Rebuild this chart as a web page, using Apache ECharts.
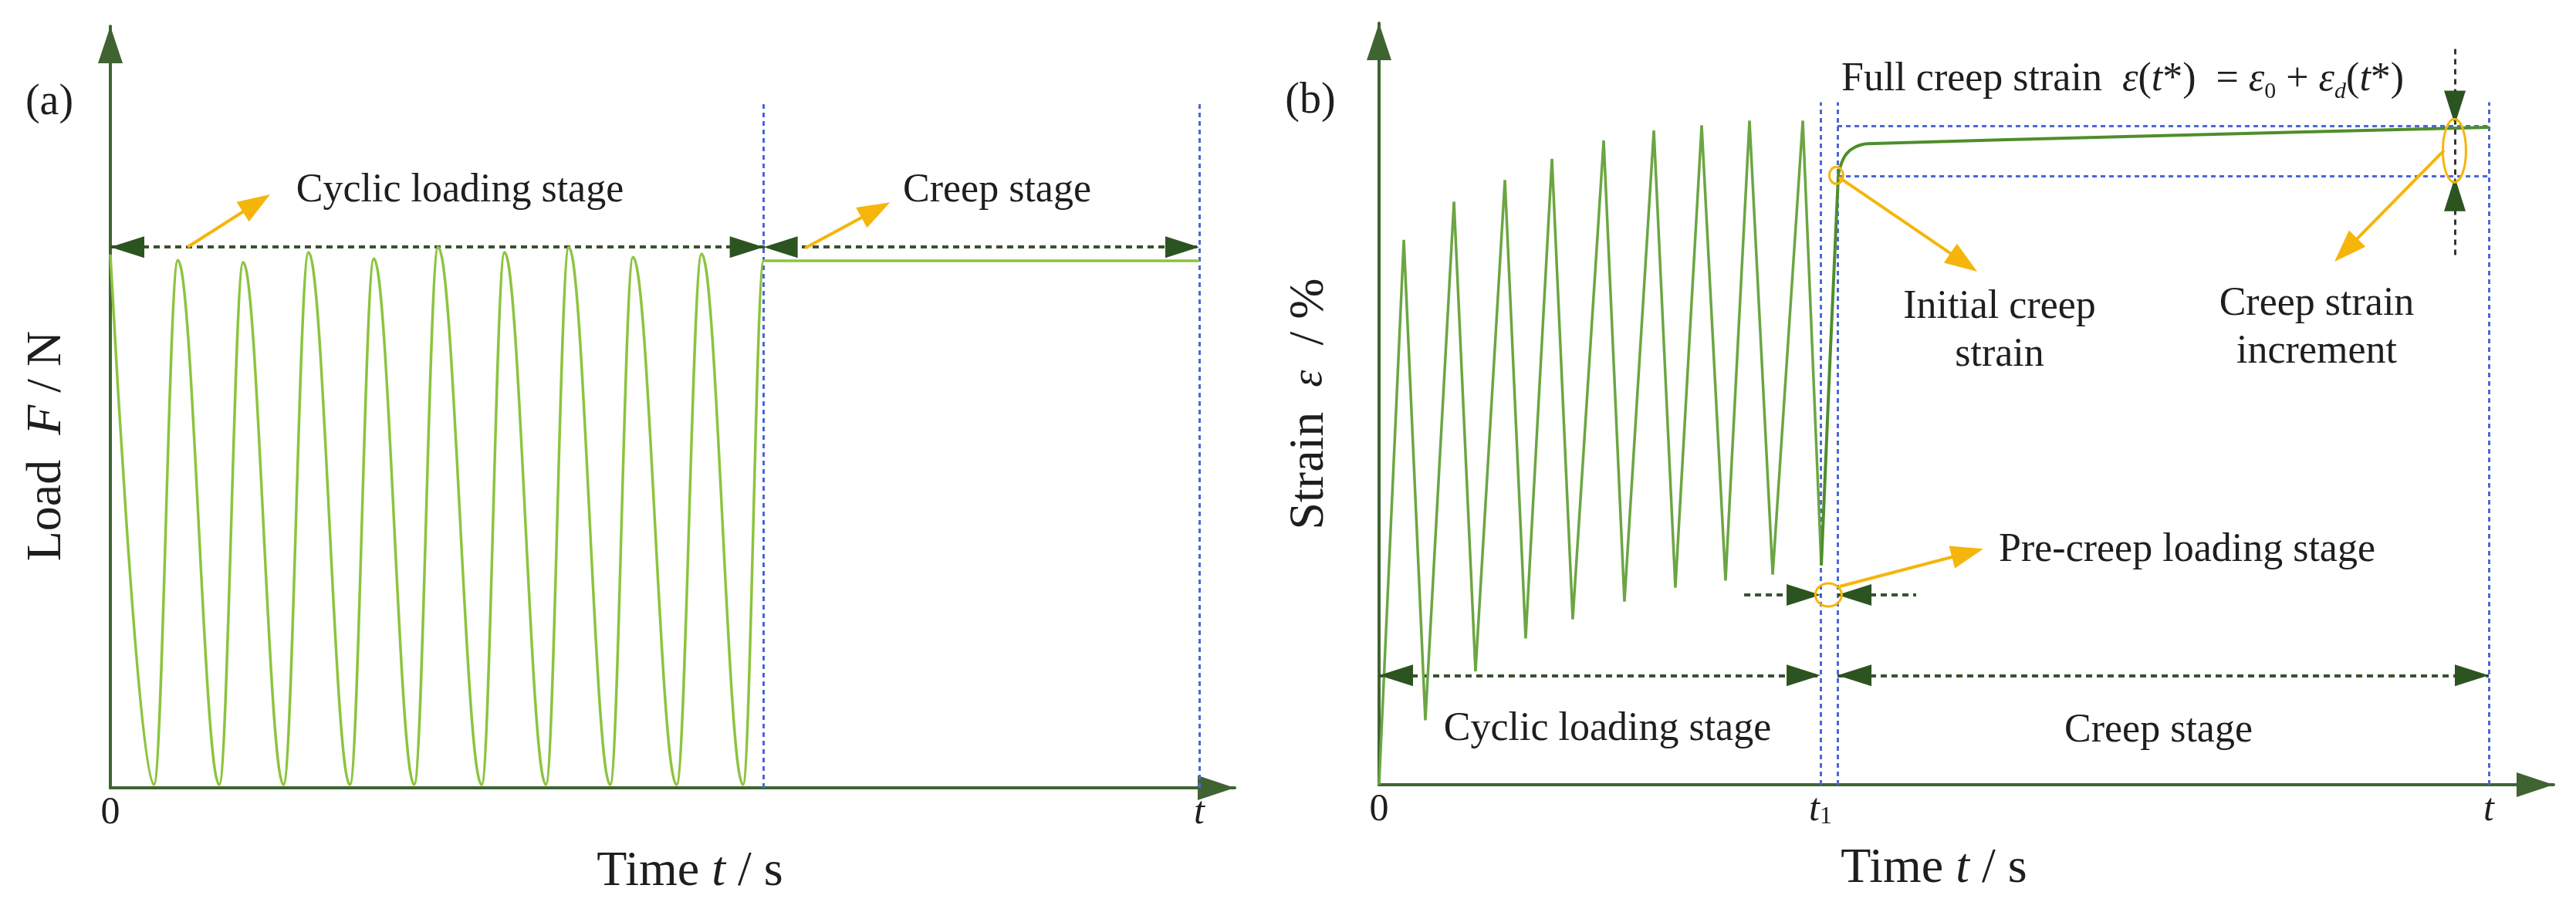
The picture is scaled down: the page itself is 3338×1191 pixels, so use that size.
<!DOCTYPE html>
<html><head><meta charset="utf-8">
<script src="https://cdn.jsdelivr.net/npm/echarts@6/dist/echarts.min.js"></script>
<style>html,body{margin:0;padding:0;background:#fff}#c{width:3338px;height:1191px}</style>
</head><body><div id="c"></div><script>
// ---------- Data (time in units where t = 100) ----------
// Panel (a): load F (creep load level = 100)
const loadPeakTime    = [0, 6.2, 12.2, 18.2, 24.2, 30.1, 36.2, 42.1, 48.0, 54.3];
const loadPeakValue   = [101.2, 100.1, 99.7, 101.6, 100.4, 102.6, 101.6, 102.6, 100.7, 101.3];
const loadTroughTime  = [4.0, 10.0, 15.9, 22.0, 27.9, 34.1, 40.0, 45.9, 52.0, 58.1];
const loadTroughValue = [0.6, 0.6, 0.6, 0.6, 0.6, 0.6, 0.6, 0.6, 0.6, 0.6];
const creepLoadTime   = [60, 100];
const creepLoadValue  = [100, 100];

// Panel (b): strain
const strainTroughTime  = [0, 4.17, 8.69, 13.21, 17.45, 22.11, 26.70, 31.22, 35.47, 39.85];
const strainTroughValue = [0, 9.8, 17.2, 22.2, 25.1, 27.8, 29.9, 31.0, 31.9, 33.3];
const strainPeakTime    = [2.23, 6.75, 11.34, 15.58, 20.24, 24.76, 29.07, 33.38, 38.18];
const strainPeakValue   = [82.7, 88.5, 91.8, 95.0, 97.8, 99.3, 100.1, 100.8, 100.8];
const creepStrainTime   = [39.85, 41.38, 41.66, 42.14, 42.91, 44.02, 67.94, 100];
const creepStrainValue  = [33.3, 92.4, 94.3, 95.8, 96.8, 97.3, 98.4, 99.8];

// Key times / levels
const tSwitchA = 60, tEnd = 100, t1 = 39.78, t1b = 41.31;
const initialCreepLevel = 92.4, fullCreepLevel = 100.0;
const xTicksA = [0, 100], xTicksB = [0, t1, 100];
const tickLabelA = ['0', 't'], tickLabelB = ['0', 't1', 't'];

// ---------- Styles ----------
const FONT = 'Liberation Serif';
const AXIS = '#3f6432', HEAD = '#2c5420', DIM = '#3a5230';
const GREEN_A = '#8cc43f', GREEN_B = '#6ba642', GREEN_C = '#4e8e2c';
const BLUE = '#4a68d8', YEL = '#f5b50a', TXT = '#1e1e1e';

function zipPts(tA, vA) { return tA.map((t, i) => [t, vA[i]]); }
function interleave(a, b) { const out = []; const n = Math.max(a.length, b.length); for (let i = 0; i < n; i++) { if (i < a.length) out.push(a[i]); if (i < b.length) out.push(b[i]); } return out; }

const loadData = interleave(zipPts(loadPeakTime, loadPeakValue), zipPts(loadTroughTime, loadTroughValue)).concat(zipPts(creepLoadTime, creepLoadValue));
const strainData = interleave(zipPts(strainTroughTime, strainTroughValue), zipPts(strainPeakTime, strainPeakValue));
const creepData = zipPts(creepStrainTime, creepStrainValue);

const richTick = {
  n: {fontFamily: FONT, fontSize: 50, color: TXT},
  i: {fontFamily: FONT, fontSize: 50, color: TXT, fontStyle: 'italic'},
  s: {fontFamily: FONT, fontSize: 32, color: TXT, verticalAlign: 'bottom', lineHeight: 30}
};
const richName = {
  n: {fontFamily: FONT, fontSize: 64, color: TXT, lineHeight: 66},
  i: {fontFamily: FONT, fontSize: 64, color: TXT, fontStyle: 'italic', lineHeight: 66},
  e: {fontFamily: FONT, fontSize: 56, color: TXT, fontStyle: 'italic', lineHeight: 66}
};
function tickFmt(labels, ticks) {
  return v => {
    let k = 0, best = 1e9;
    ticks.forEach((t, i) => { if (Math.abs(t - v) < best) { best = Math.abs(t - v); k = i; } });
    const l = labels[k];
    if (l === '0') return '{n|0}';
    if (l === 't1') return '{i|t}{s|1}';
    return '{i|t}';
  };
}
const axisLine = (symOff) => ({show: true, onZero: true, lineStyle: {color: AXIS, width: 4}, symbol: ['none', 'triangle'], symbolSize: [32, 48], symbolOffset: [0, symOff]});

function ml(pairs) {
  return pairs.map(p => [{coord: p[0], lineStyle: p[2]}, {coord: p[1]}]);
}
const blueStyle = {color: BLUE, width: 3, type: [6, 5]};
const dimStyle = {color: DIM, width: 4, type: [8, 6]};
const blackDash = {color: '#333', width: 3, type: [7, 6]};

const option = {
  animation: false,
  backgroundColor: '#fff',
  grid: [
    {left: 143, top: 34, width: 1457, height: 987},
    {left: 1787, top: 30, width: 1522, height: 987}
  ],
  xAxis: [
    {type: 'value', gridIndex: 0, min: 0, max: 103.26, axisLine: axisLine(-24), axisTick: {show: false}, splitLine: {show: false},
     axisLabel: {customValues: xTicksA, formatter: tickFmt(tickLabelA, xTicksA), margin: 8, rich: richTick},
     name: '{n|Time }{i|t}{n| / s}', nameLocation: 'middle', nameGap: 76, nameTextStyle: {padding: [0, 0, 0, 45], rich: richName}},
    {type: 'value', gridIndex: 1, min: 0, max: 105.84, axisLine: axisLine(-24), axisTick: {show: false}, splitLine: {show: false},
     axisLabel: {customValues: xTicksB, formatter: tickFmt(tickLabelB, xTicksB), margin: 8, rich: richTick},
     name: '{n|Time }{i|t}{n| / s}', nameLocation: 'middle', nameGap: 76, nameTextStyle: {padding: [0, 84, 0, 0], rich: richName}}
  ],
  yAxis: [
    {type: 'value', gridIndex: 0, min: 0, max: 144.5, axisLine: axisLine(-24), axisTick: {show: false}, splitLine: {show: false}, axisLabel: {show: false},
     name: '{n|Load  }{i|F}{n| / N}', nameLocation: 'middle', nameGap: 49, nameTextStyle: {padding: [0, 101, 0, 0], rich: richName}},
    {type: 'value', gridIndex: 1, min: 0, max: 115.6, axisLine: axisLine(-24), axisTick: {show: false}, splitLine: {show: false}, axisLabel: {show: false},
     name: '{n|Strain  }{e|ε}{n|  / %}', nameLocation: 'middle', nameGap: 57, nameTextStyle: {rich: richName}}
  ],
  series: [
    {type: 'line', name: 'Load', xAxisIndex: 0, yAxisIndex: 0, data: loadData, showSymbol: false, smooth: 0.36, smoothMonotone: 'x',
     lineStyle: {color: GREEN_A, width: 3.5}, z: 5, silent: true,
     markLine: {silent: true, symbol: 'none', label: {show: false}, emphasis: {disabled: true}, animation: false,
       data: ml([
         [[tSwitchA, 0], [tSwitchA, 129.7], blueStyle],
         [[tEnd, 0], [tEnd, 129.7], blueStyle],
         [[0, 102.6], [tEnd, 102.6], dimStyle]
       ])}},
    {type: 'line', name: 'Cyclic strain', xAxisIndex: 1, yAxisIndex: 1, data: strainData, showSymbol: false,
     lineStyle: {color: GREEN_B, width: 3.5}, z: 5, silent: true,
     markLine: {silent: true, symbol: 'none', label: {show: false}, emphasis: {disabled: true}, animation: false,
       data: ml([
         [[t1, 0], [t1, 103.6], blueStyle],
         [[t1b, 0], [t1b, 103.6], blueStyle],
         [[tEnd, 0], [tEnd, 103.6], blueStyle],
         [[t1b, fullCreepLevel], [tEnd, fullCreepLevel], blueStyle],
         [[t1b, initialCreepLevel], [tEnd, initialCreepLevel], blueStyle],
         [[0, 16.6], [t1, 16.6], dimStyle],
         [[t1b, 16.6], [tEnd, 16.6], dimStyle],
         [[32.9, 28.8], [t1, 28.8], dimStyle],
         [[t1b, 28.8], [48.4, 28.8], dimStyle],
         [[96.94, 80.4], [96.94, 111.7], blackDash]
       ])}},
    {type: 'line', name: 'Creep strain', xAxisIndex: 1, yAxisIndex: 1, data: creepData, showSymbol: false, smooth: 0.25,
     lineStyle: {color: GREEN_C, width: 4}, z: 6, silent: true}
  ]
};

const chart = echarts.init(document.getElementById('c'));
chart.setOption(option);

const PA = (t, v) => chart.convertToPixel({gridIndex: 0}, [t, v]);
const PB = (t, v) => chart.convertToPixel({gridIndex: 1}, [t, v]);
function head(p, ang, L, W, color) {
  const c = Math.cos(ang), s = Math.sin(ang);
  const bx = p[0] - L * c, by = p[1] - L * s;
  return {type: 'polygon', z: 100, silent: true, shape: {points: [[p[0], p[1]], [bx - W / 2 * s, by + W / 2 * c], [bx + W / 2 * s, by - W / 2 * c]]}, style: {fill: color}};
}
function yarrow(p0, p1) {
  const ang = Math.atan2(p1[1] - p0[1], p1[0] - p0[0]);
  const L = 42, W = 30;
  const e = [p1[0] - L * 0.7 * Math.cos(ang), p1[1] - L * 0.7 * Math.sin(ang)];
  return [{type: 'line', z: 100, silent: true, shape: {x1: p0[0], y1: p0[1], x2: e[0], y2: e[1]}, style: {stroke: YEL, lineWidth: 4}}, head(p1, ang, L, W, YEL)];
}
function ell(p, rx, ry) {
  return {type: 'ellipse', z: 100, silent: true, shape: {cx: p[0], cy: p[1], rx: rx, ry: ry}, style: {fill: 'none', stroke: YEL, lineWidth: 3}};
}
function txt(x, y, text, opts) {
  return Object.assign({type: 'text', z: 100, silent: true, x: x, y: y,
    style: Object.assign({text: text, fill: TXT, fontFamily: FONT, fontSize: 52, align: 'center', verticalAlign: 'middle', lineHeight: 62}, opts || {})});
}
const L = 44, W = 28, R = 0, LEFT = Math.PI, DOWN = Math.PI / 2, UP = -Math.PI / 2;
const richF = {
  n: {fontFamily: FONT, fontSize: 52, color: TXT, lineHeight: 62},
  i: {fontFamily: FONT, fontSize: 52, color: TXT, fontStyle: 'italic', lineHeight: 62},
  s: {fontFamily: FONT, fontSize: 30, color: TXT, lineHeight: 30, verticalAlign: 'bottom'},
  si: {fontFamily: FONT, fontSize: 30, color: TXT, fontStyle: 'italic', lineHeight: 30, verticalAlign: 'bottom'}
};

const g = [];
// Panel (a)
g.push(head(PA(0, 102.6), LEFT, L, W, HEAD), head(PA(tSwitchA, 102.6), R, L, W, HEAD),
       head(PA(tSwitchA, 102.6), LEFT, L, W, HEAD), head(PA(tEnd, 102.6), R, L, W, HEAD));
g.push(...yarrow(PA(7.09, 102.6), PA(14.67, 112.6)), ...yarrow(PA(63.8, 102.4), PA(71.6, 111.1)));
g.push(txt(596, 247, 'Cyclic loading stage'), txt(1292, 247, 'Creep stage'));
g.push(txt(64, 133, '(a)', {fontSize: 56}));
// Panel (b)
g.push(head(PB(0, 16.6), LEFT, L, W, HEAD), head(PB(t1, 16.6), R, L, W, HEAD),
       head(PB(t1b, 16.6), LEFT, L, W, HEAD), head(PB(tEnd, 16.6), R, L, W, HEAD));
g.push(head(PB(t1, 28.8), R, L, W, HEAD), head(PB(t1b, 28.8), LEFT, L, W, HEAD));
g.push(head(PB(96.94, 100.2), DOWN, L, W, HEAD), head(PB(96.94, 92.2), UP, L, W, HEAD));
g.push(ell(PB(40.5, 28.8), 17, 15), ell(PB(41.2, 92.5), 9, 11), ell(PB(96.9, 96.25), 15, 41));
g.push(...yarrow(PB(41.5, 30.1), PB(54.45, 35.8)), ...yarrow(PB(41.45, 92.2), PB(53.9, 77.9)), ...yarrow(PB(95.97, 96.3), PB(86.1, 79.4)));
g.push(txt(1698, 131, '(b)', {fontSize: 56}));
g.push(txt(2386, 103, '{n|Full creep strain  }{i|ε}{n|(}{i|t}{n|*)  = }{i|ε}{s|0}{n| + }{i|ε}{si|d}{n|(}{i|t}{n|*)}', {align: 'left', rich: richF}));
g.push(txt(2591, 429, 'Initial creep\nstrain'), txt(3002, 425, 'Creep strain\nincrement'));
g.push(txt(2590, 713, 'Pre-creep loading stage', {align: 'left'}));
g.push(txt(2083, 945, 'Cyclic loading stage'), txt(2797, 947, 'Creep stage'));

chart.setOption({graphic: g});
</script></body></html>
